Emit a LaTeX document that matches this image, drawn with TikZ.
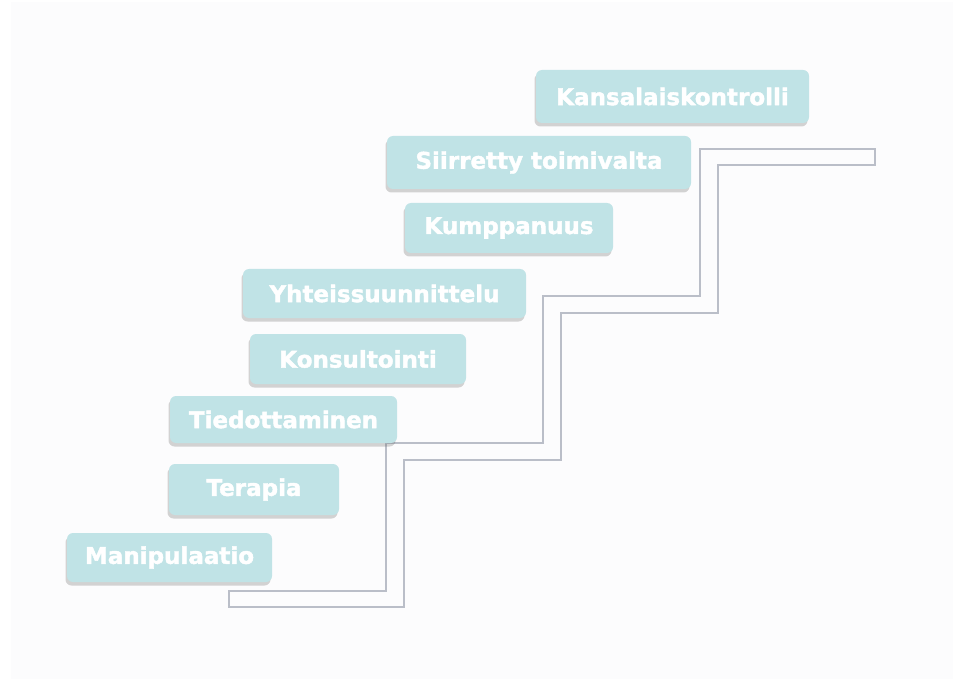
\documentclass[tikz,border=0pt]{standalone}
\usepackage{fontspec}
\setmainfont{DejaVu Sans}
\newfontfamily\stepfont{DejaVu Sans Bold}[FakeBold=1.8]
\usetikzlibrary{shadows}
\definecolor{boxfill}{HTML}{C0E3E6}
\definecolor{stairline}{HTML}{BABEC8}
\definecolor{pagebg}{HTML}{FCFCFD}
\tikzset{
  stepbox/.style={fill=boxfill, rounded corners=6pt, text=white, inner sep=0pt,
    font=\fontsize{23}{27}\stepfont,
    drop shadow={shadow xshift=-1.5pt, shadow yshift=-3.5pt, opacity=.28, fill=black!60}},
  stair/.style={draw=stairline, line width=2pt}
}

\begin{document}
\begin{tikzpicture}[x=1pt,y=-1pt]
  \useasboundingbox (0,0) rectangle (959,679);
  \fill[pagebg] (11,2) rectangle (953,679);
  % the stairs
  \draw [stair] (229,591) -- (386,591) -- (386,443) -- (543,443) -- (543,296)
                -- (700,296) -- (700,149) -- (875,149) -- (875,165) -- (718,165)
                -- (718,313) -- (561,313) -- (561,460) -- (404,460) -- (404,607)
                -- (229,607) -- cycle;
  % the steps, from the bottom up
  \node [stepbox, minimum width=205pt, minimum height=49pt] (manip) at (169.5,557.5) {Manipulaatio};
  \node [stepbox, minimum width=170pt, minimum height=51pt] (terapia) at (254,489.5) {Terapia};
  \node [stepbox, minimum width=227pt, minimum height=47pt] (tiedot) at (283.5,419.5) {Tiedottaminen};
  \node [stepbox, minimum width=216pt, minimum height=50pt] (konsult) at (358,359) {Konsultointi};
  \node [stepbox, minimum width=283pt, minimum height=49pt] (yhteis) at (384.5,293.5) {Yhteissuunnittelu};
  \node [stepbox, minimum width=208pt, minimum height=50pt] (kumpp) at (509,228) {Kumppanuus};
  \node [stepbox, minimum width=304pt, minimum height=53pt] (siirr) at (539,162.5) {Siirretty toimivalta};
  \node [stepbox, minimum width=273pt, minimum height=53pt] (kansal) at (672.5,96.5) {Kansalaiskontrolli};
\end{tikzpicture}
\end{document}
